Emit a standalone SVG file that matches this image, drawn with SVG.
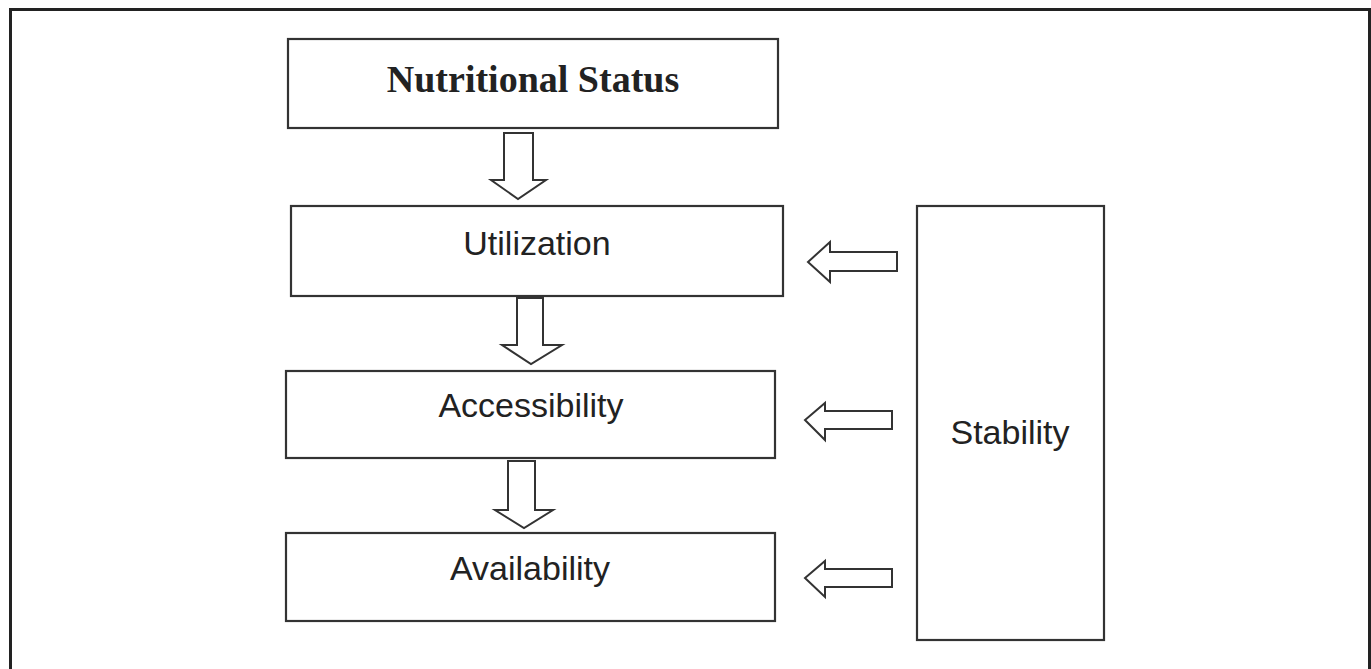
<svg xmlns="http://www.w3.org/2000/svg" width="1371" height="669" viewBox="0 0 1371 669">
<style>
.frame{fill:none;stroke:#222;stroke-width:3}
.box{fill:#fff;stroke:#333;stroke-width:2.2}
.arr{fill:#fff;stroke:#333;stroke-width:2;stroke-linejoin:miter}
.lbl{font-family:"Liberation Sans",Arial,sans-serif;font-size:34px;fill:#222;text-anchor:middle}
.ttl{font-family:"Liberation Serif","Times New Roman",serif;font-size:38px;font-weight:bold;fill:#222;text-anchor:middle}
</style>
<rect width="1371" height="669" fill="#fff"/>
<path class="frame" d="M10.5,669 V9.5 H1369.5 V669"/>
<g id="node-nutritional">
<rect class="box" x="288" y="39" width="490" height="89"/>
<text class="ttl" x="533" y="92">Nutritional Status</text>
</g>
<g id="node-utilization">
<rect class="box" x="291" y="206" width="492" height="90"/>
<text class="lbl" x="537" y="255">Utilization</text>
</g>
<g id="node-accessibility">
<rect class="box" x="286" y="371" width="489" height="87"/>
<text class="lbl" x="531" y="417">Accessibility</text>
</g>
<g id="node-availability">
<rect class="box" x="286" y="533" width="489" height="88"/>
<text class="lbl" x="530" y="580">Availability</text>
</g>
<g id="node-stability">
<rect class="box" x="917" y="206" width="187" height="434"/>
<text class="lbl" x="1010" y="444">Stability</text>
</g>
<g id="connectors">
<polygon class="arr" points="504,133 533,133 533,180 546,180 518,199 491,180 504,180"/>
<polygon class="arr" points="517,298 543,298 543,345 562,345 531,364 502,345 517,345"/>
<polygon class="arr" points="508,461 535,461 535,510 553,510 524,528 495,510 508,510"/>
<polygon class="arr" points="897,252 830,252 830,242 808,262 830,282 830,271 897,271"/>
<polygon class="arr" points="892,411 825,411 825,403 805,420 825,440 825,429 892,429"/>
<polygon class="arr" points="892,569 825,569 825,561 805,578 825,597 825,587 892,587"/>
</g>
</svg>
